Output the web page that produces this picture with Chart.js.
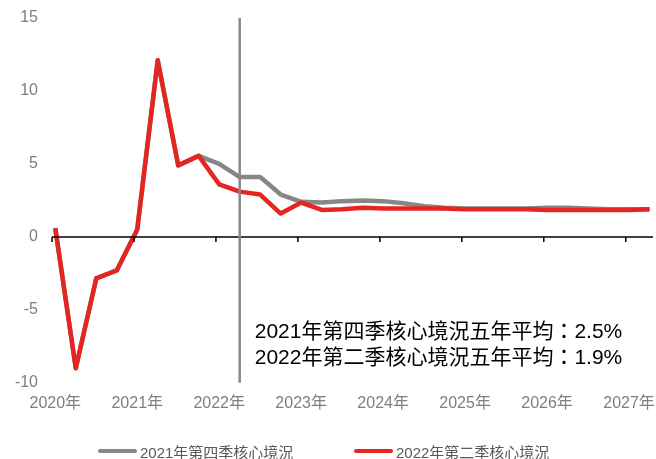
<!DOCTYPE html>
<html>
<head>
<meta charset="utf-8">
<script src="https://cdn.jsdelivr.net/npm/chart.js@4.4.1/dist/chart.umd.min.js"></script>
<style>
  html, body { margin: 0; padding: 0; background: #fff; }
  #wrap { position: relative; width: 656px; height: 459px; }
  .legend-item { position: absolute; top: 441px; height: 20px; display: flex; align-items: center;
    font: 15px 'Liberation Sans', 'Noto Sans CJK TC', sans-serif; color: #595959; white-space: nowrap; }
  .legend-item span.sw { display: inline-block; width: 39px; height: 4px; border-radius: 2px; margin-right: 3px; }
</style>
</head>
<body>
<div id="wrap">
  <canvas id="chart" width="656" height="459"></canvas>
  <div class="legend-item" id="lg0" style="left:98px"></div>
  <div class="legend-item" id="lg1" style="left:354px"></div>
</div>
<script>
// 季度數據：2020Q1 - 2027Q2
const quarters = [
  '2020Q1', '2020Q2', '2020Q3', '2020Q4', '2021Q1', '2021Q2', '2021Q3', '2021Q4',
  '2022Q1', '2022Q2', '2022Q3', '2022Q4', '2023Q1', '2023Q2', '2023Q3', '2023Q4',
  '2024Q1', '2024Q2', '2024Q3', '2024Q4', '2025Q1', '2025Q2', '2025Q3', '2025Q4',
  '2026Q1', '2026Q2', '2026Q3', '2026Q4', '2027Q1', '2027Q2'
];
const yearLabels = ['2020年', '2021年', '2022年', '2023年', '2024年', '2025年', '2026年', '2027年'];
const yTicks = [-10, -5, 0, 5, 10, 15];

const q4_2021 = [
  0.6, -9.0, -2.85, -2.3, 0.5, 12.1, 4.9, 5.55,
  5.0, 4.1, 4.1, 2.9, 2.4, 2.35, 2.45, 2.5,
  2.45, 2.3, 2.1, 2.0, 1.95, 1.95, 1.95, 1.95,
  2.0, 2.0, 1.95, 1.9, 1.9, 1.9
];
const q2_2022 = [
  0.6, -9.0, -2.85, -2.3, 0.5, 12.1, 4.9, 5.55,
  3.6, 3.1, 2.9, 1.6, 2.35, 1.85, 1.9, 2.0,
  1.95, 1.95, 1.95, 1.95, 1.9, 1.9, 1.9, 1.9,
  1.85, 1.85, 1.85, 1.85, 1.85, 1.9
];

const seriesNames = ['2021年第四季核心境況', '2022年第二季核心境況'];
const colors = ['#878787', '#e52521'];
const notes = ['2021年第四季核心境況五年平均：2.5%', '2022年第二季核心境況五年平均：1.9%'];
const markerQuarter = '2022Q2';

const tickShift = 0.16; // 年份刻度線略在首季數據點之前
const font = "'Liberation Sans', 'Noto Sans CJK TC', sans-serif";

const toPoints = arr => arr.map((v, i) => ({ x: i, y: v }));

const extras = {
  id: 'extras',
  afterDatasetsDraw(chart) {
    const { ctx, chartArea: a, scales: { x, y } } = chart;
    ctx.save();
    // 零軸及刻度
    const y0 = y.getPixelForValue(0);
    ctx.strokeStyle = '#000';
    ctx.lineWidth = 1.5;
    ctx.beginPath();
    ctx.moveTo(a.left, y0);
    ctx.lineTo(a.right, y0);
    yearLabels.forEach((_, k) => {
      const px = x.getPixelForValue(k * 4 - tickShift);
      ctx.moveTo(px, y0);
      ctx.lineTo(px, y0 + 5);
    });
    ctx.stroke();
    // 分隔線
    const vx = x.getPixelForValue(quarters.indexOf(markerQuarter));
    ctx.strokeStyle = '#888';
    ctx.lineWidth = 2.5;
    ctx.beginPath();
    ctx.moveTo(vx, a.top);
    ctx.lineTo(vx, a.bottom);
    ctx.stroke();
    ctx.restore();
  },
  afterDraw(chart) {
    const { ctx, chartArea: a, scales: { x } } = chart;
    const vx = x.getPixelForValue(quarters.indexOf(markerQuarter));
    ctx.save();
    ctx.fillStyle = '#000';
    ctx.font = '21px ' + font;
    ctx.textBaseline = 'middle';
    ctx.textAlign = 'left';
    ctx.fillText(notes[0], vx + 15, a.bottom - 51);
    ctx.fillText(notes[1], vx + 15, a.bottom - 24.5);
    ctx.restore();
  }
};

new Chart(document.getElementById('chart'), {
  type: 'line',
  data: {
    datasets: [
      {
        label: seriesNames[0],
        data: toPoints(q4_2021),
        borderColor: colors[0],
        backgroundColor: colors[0],
        borderWidth: 4.5,
        pointRadius: 0,
        tension: 0,
        borderJoinStyle: 'round',
        order: 1
      },
      {
        label: seriesNames[1],
        data: toPoints(q2_2022),
        borderColor: colors[1],
        backgroundColor: colors[1],
        borderWidth: 4.5,
        pointRadius: 0,
        tension: 0,
        borderJoinStyle: 'round',
        order: 0
      }
    ]
  },
  options: {
    responsive: false,
    animation: false,
    layout: { padding: { top: 18, right: 3, bottom: 46, left: 0 } },
    plugins: {
      legend: { display: false },
      tooltip: { enabled: false }
    },
    scales: {
      x: {
        type: 'linear',
        min: -tickShift,
        max: 29.17,
        grid: { display: false, drawTicks: false },
        border: { display: false },
        afterBuildTicks: s => { s.ticks = yearLabels.map((_, k) => ({ value: k * 4 })); },
        afterFit: s => { s.height = 30.2; s.paddingLeft = 0; s.paddingRight = 0; },
        ticks: {
          padding: 11,
          color: '#7f7f7f',
          font: { size: 16, family: font },
          maxRotation: 0,
          autoSkip: false,
          callback: (v, i) => yearLabels[i]
        }
      },
      y: {
        min: -10,
        max: 15,
        grid: { display: false, drawTicks: false },
        border: { display: false },
        afterBuildTicks: s => { s.ticks = yTicks.map(v => ({ value: v })); },
        afterFit: s => { s.width = 52; s.paddingTop = 0; s.paddingBottom = 0; },
        ticks: {
          padding: 14,
          color: '#7f7f7f',
          font: { size: 16, family: font }
        }
      }
    }
  },
  plugins: [extras]
});

seriesNames.forEach((name, i) => {
  const el = document.getElementById('lg' + i);
  el.innerHTML = '<span class="sw" style="background:' + colors[i] + '"></span>' + name;
});
</script>
</body>
</html>
